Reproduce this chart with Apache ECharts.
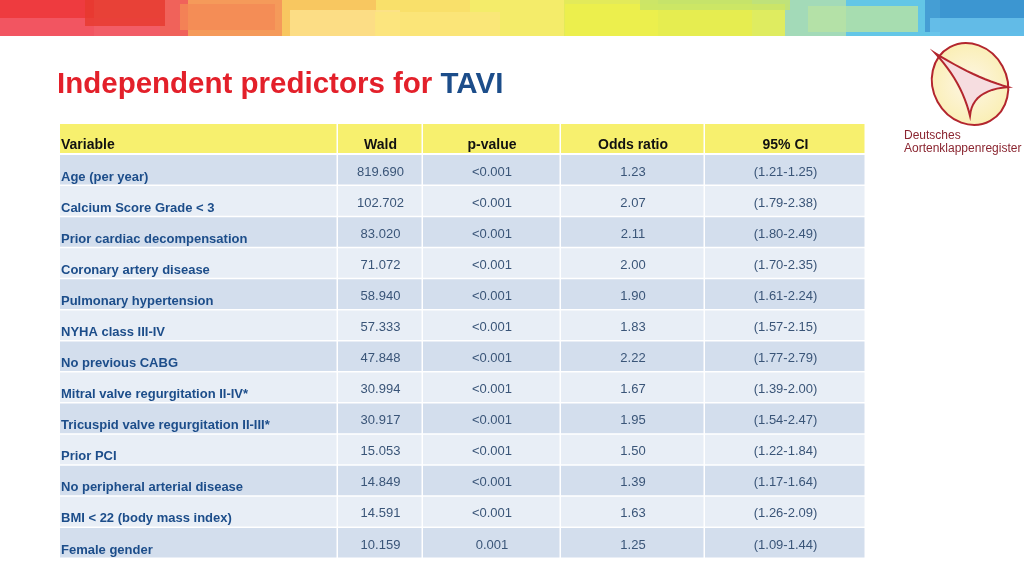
<!DOCTYPE html>
<html>
<head>
<meta charset="utf-8">
<script src="https://cdn.jsdelivr.net/npm/echarts@6/dist/echarts.min.js"></script>
<style>html,body{margin:0;padding:0;background:#fff}#main{width:1024px;height:576px}</style>
</head>
<body>
<div id="main"></div>
<script>
// table content
const headers = ['Variable', 'Wald', 'p-value', 'Odds ratio', '95% CI'];
const variables = ['Age (per year)', 'Calcium Score Grade < 3', 'Prior cardiac decompensation',
  'Coronary artery disease', 'Pulmonary hypertension', 'NYHA class III-IV', 'No previous CABG',
  'Mitral valve regurgitation II-IV*', 'Tricuspid valve regurgitation II-III*', 'Prior PCI',
  'No peripheral arterial disease', 'BMI < 22 (body mass index)', 'Female gender'];
const wald = ['819.690', '102.702', '83.020', '71.072', '58.940', '57.333', '47.848',
  '30.994', '30.917', '15.053', '14.849', '14.591', '10.159'];
const pValue = ['<0.001', '<0.001', '<0.001', '<0.001', '<0.001', '<0.001', '<0.001',
  '<0.001', '<0.001', '<0.001', '<0.001', '<0.001', '0.001'];
const oddsRatio = ['1.23', '2.07', '2.11', '2.00', '1.90', '1.83', '2.22', '1.67', '1.95',
  '1.50', '1.39', '1.63', '1.25'];
const ci = ['(1.21-1.25)', '(1.79-2.38)', '(1.80-2.49)', '(1.70-2.35)', '(1.61-2.24)',
  '(1.57-2.15)', '(1.77-2.79)', '(1.39-2.00)', '(1.54-2.47)', '(1.22-1.84)', '(1.17-1.64)',
  '(1.26-2.09)', '(1.09-1.44)'];

// column edges in axis units
const colEdges = [60, 338, 423, 561, 705, 866];

const columns = [variables, wald, pValue, oddsRatio, ci];
const cells = [];
for (let r = 0; r < variables.length; r++) {
  for (let c = 0; c < columns.length; c++) {
    cells.push([c, r, columns[c][r]]);
  }
}

let chart = echarts.init(document.getElementById('main'));

function renderCell(params, api) {
  const c = api.value(0), r = api.value(1);
  const x0 = api.coord([colEdges[c], r])[0];
  const x1 = api.coord([colEdges[c + 1], r])[0];
  const band = api.size([0, 1])[1];
  const yc = api.coord([colEdges[c], r])[1];
  const y0 = yc - band / 2;
  const text = cells[params.dataIndex][2];
  return {
    type: 'group',
    children: [{
      type: 'rect',
      shape: { x: x0, y: y0, width: x1 - x0 - 1.5, height: band - 1.5 },
      style: { fill: r % 2 === 0 ? '#d3deed' : '#e8eef6' }
    }, {
      type: 'text',
      style: c === 0 ? {
        x: x0 + 1, y: y0 + 22, text: text, fill: '#1c4d8a',
        font: 'bold 13px Arial, "Liberation Sans", sans-serif', verticalAlign: 'middle'
      } : {
        x: (x0 + x1) / 2, y: y0 + 17, text: text, fill: '#3a5578',
        font: '13px Arial, "Liberation Sans", sans-serif', align: 'center', verticalAlign: 'middle'
      }
    }]
  };
}

// curved triangle of the logo as a polygon
function quad(p0, p1, p2, n) {
  const pts = [];
  for (let i = 0; i < n; i++) {
    const t = i / n;
    pts.push([(1 - t) * (1 - t) * p0[0] + 2 * t * (1 - t) * p1[0] + t * t * p2[0],
      (1 - t) * (1 - t) * p0[1] + 2 * t * (1 - t) * p1[1] + t * t * p2[1]]);
  }
  return pts;
}
const triPts = [
  ...quad([935, 53], [975, 78], [1008, 87], 12),
  ...quad([1008, 87], [972, 90], [970, 116], 12),
  ...quad([970, 116], [962, 82], [935, 53], 12)
];

// banner strips
const bannerColors = ['#ee3b3f', '#f0625a', '#f59a5a', '#f8c760', '#f9e06a', '#f4ec6a', '#e3ea5a', '#c9e26c', '#a3dab8', '#63c6e6', '#3b9fd6'];
const bannerRects = bannerColors.map((col, i) => ({
  type: 'rect', shape: { x: i * 94, y: 0, width: 98, height: 36 },
  style: { fill: col }
}));
const bannerOverlays = [
  [0, 18, 160, 18, '#f25c6a'], [85, 0, 80, 26, '#e63a2e'], [180, 4, 95, 26, '#f48a55'],
  [290, 10, 110, 26, '#fde28e'], [375, 12, 125, 24, '#fbe67c'], [565, 4, 220, 32, '#eef04a'],
  [640, 0, 150, 10, '#c5e36a'], [808, 6, 110, 26, '#b8e2a2'], [925, 0, 99, 32, '#3d93cf'],
  [930, 18, 94, 18, '#6cc4ec']
].map(o => ({
  type: 'rect', shape: { x: o[0], y: o[1], width: o[2], height: o[3] },
  style: { fill: o[4], opacity: 0.8 }
}));

chart.setOption({
  animation: false,
  grid: { left: 60, top: 155, width: 806, height: 404 },
  xAxis: { type: 'value', min: 60, max: 866, show: false },
  yAxis: { type: 'category', data: variables, inverse: true, show: false },
  graphic: [
    ...bannerRects, ...bannerOverlays,
    {
      type: 'text', x: 57, y: 85,
      style: {
        text: '{r|Independent predictors for }{b|TAVI}', verticalAlign: 'middle',
        rich: {
          r: { fill: '#e3202a', font: 'bold 29.5px Arial, "Liberation Sans", sans-serif' },
          b: { fill: '#1c4d8a', font: 'bold 29.5px Arial, "Liberation Sans", sans-serif' }
        }
      }
    },
    // header row
    ...headers.map((h, c) => ({
      type: 'group', children: [{
        type: 'rect',
        shape: { x: colEdges[c], y: 124, width: colEdges[c + 1] - colEdges[c] - 1.5, height: 29 },
        style: { fill: '#f7f06e' }
      }, {
        type: 'text',
        style: {
          x: c === 0 ? colEdges[c] + 1 : (colEdges[c] + colEdges[c + 1]) / 2, y: 145,
          text: h, fill: '#111', font: 'bold 14px Arial, "Liberation Sans", sans-serif',
          align: c === 0 ? 'left' : 'center', verticalAlign: 'middle'
        }
      }]
    })),
    // logo
    {
      type: 'ellipse', shape: { cx: 970, cy: 84, rx: 37, ry: 42 }, rotation: 0.5, originX: 970, originY: 84,
      style: {
        fill: new echarts.graphic.RadialGradient(0.5, 0.5, 0.6, [
          { offset: 0, color: '#fdf6e6' }, { offset: 1, color: '#faeeb0' }
        ]),
        stroke: '#b3262e', lineWidth: 2
      }
    },
    {
      type: 'polygon', shape: { points: triPts },
      style: { fill: '#f6dde0', stroke: '#b3262e', lineWidth: 2 }
    },
    {
      type: 'text', x: 904, y: 129,
      style: { text: 'Deutsches\nAortenklappenregister', fill: '#8a2530', font: '12px Arial, "Liberation Sans", sans-serif', lineHeight: 13 }
    }
  ],
  series: [{
    type: 'custom',
    renderItem: renderCell,
    data: cells.map(d => [d[0], d[1]])
  }]
});
</script>
</body>
</html>
